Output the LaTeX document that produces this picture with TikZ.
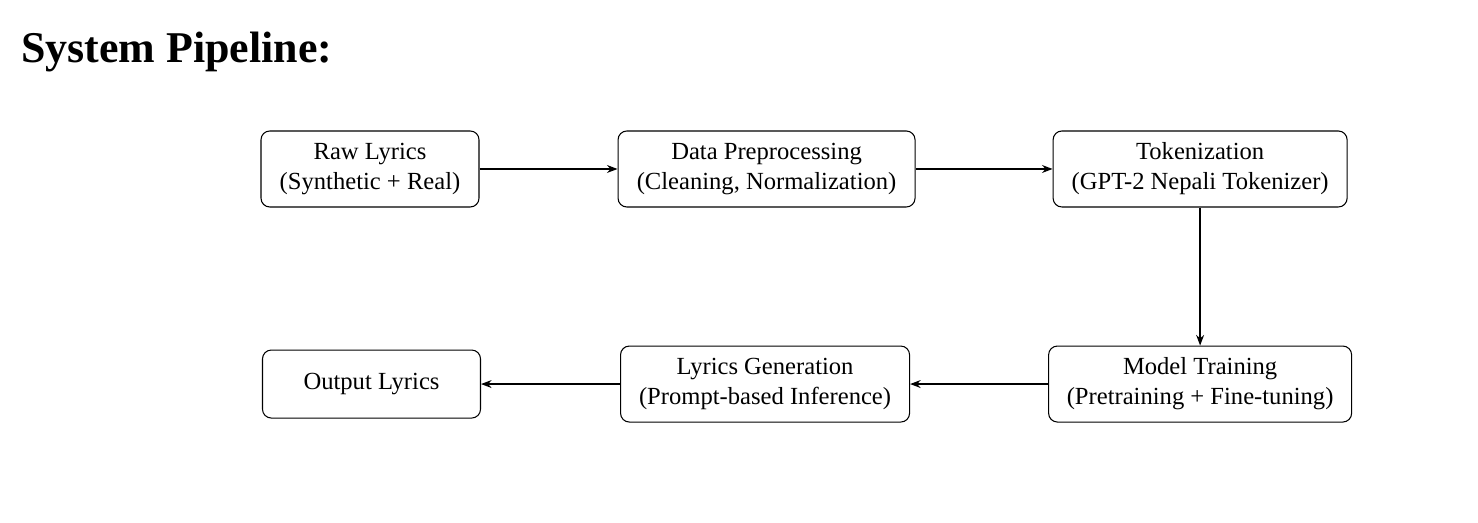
\documentclass[tikz,border=0pt]{standalone}
\usepackage{fontspec}
\setmainfont{Liberation Serif}
\usetikzlibrary{positioning, arrows.meta}

\begin{document}
\begin{tikzpicture}[node distance=2.76cm, auto,
    block/.style={draw, rectangle, rounded corners=5pt, line width=0.6pt, minimum height=1.52cm, align=center, font=\fontsize{14}{17}\selectfont},
    arrow/.style={-{Stealth[length=6pt, width=4.5pt]}, line width=0.8pt}]
    \useasboundingbox (0,0) rectangle (29.56,10.46);

    % Title
    \node[anchor=west, font=\fontsize{25}{30}\selectfont\bfseries] (title) at (0.3,9.42) {System Pipeline:};

    % Nodes
    \node[block, minimum width=4.36cm] (raw) at (7.40,7.08) {Raw Lyrics\\(Synthetic + Real)};
    \node[block, minimum width=5.94cm, right=2.76cm of raw] (prep) {Data Preprocessing\\(Cleaning, Normalization)};
    \node[block, minimum width=5.88cm, right=2.74cm of prep] (token) {Tokenization\\(GPT-2 Nepali Tokenizer)};
    \node[block, minimum width=6.06cm, below=2.76cm of token] (train) {Model Training\\(Pretraining + Fine-tuning)};
    \node[block, minimum width=5.78cm, left=2.76cm of train] (gen) {Lyrics Generation\\(Prompt-based Inference)};
    \node[block, minimum width=4.36cm, minimum height=1.36cm, left=2.78cm of gen] (out) {Output Lyrics};

    % Arrows
    \draw[arrow] (raw) -- (prep);
    \draw[arrow] (prep) -- (token);
    \draw[arrow] (token) -- (train);
    \draw[arrow] (train) -- (gen);
    \draw[arrow] (gen) -- (out);
\end{tikzpicture}
\end{document}
